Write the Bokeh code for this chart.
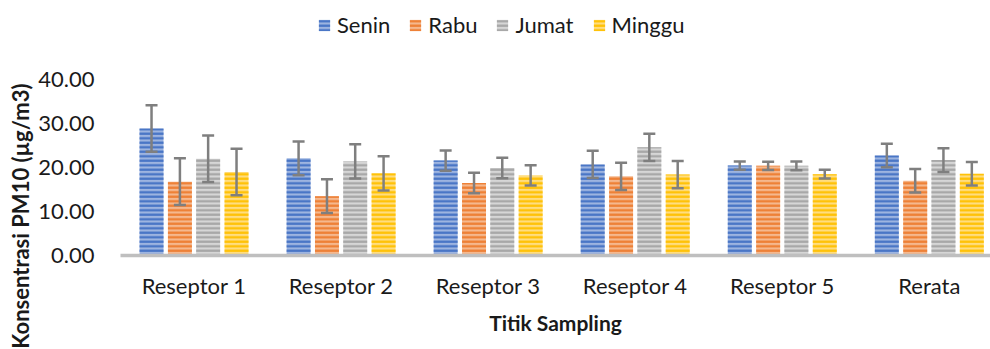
import math
from bokeh.plotting import figure
from bokeh.models import (Range1d, FixedTicker, NumeralTickFormatter, Whisker, TeeHead,
                          ColumnDataSource, Legend, LegendItem, Title)
from bokeh.embed import file_html
from bokeh.resources import INLINE

categories = ["Reseptor 1", "Reseptor 2", "Reseptor 3", "Reseptor 4", "Reseptor 5", "Rerata"]
series_names = ["Senin", "Rabu", "Jumat", "Minggu"]
senin = [28.9, 22.1, 21.6, 20.7, 20.45, 22.75]
rabu = [16.8, 13.5, 16.5, 18.0, 20.4, 17.0]
jumat = [22.0, 21.4, 19.9, 24.6, 20.4, 21.7]
minggu = [19.0, 18.7, 18.2, 18.4, 18.5, 18.6]
senin_err = [5.3, 3.85, 2.3, 3.1, 0.95, 2.65]
rabu_err = [5.3, 3.85, 2.35, 3.1, 0.95, 2.65]
jumat_err = [5.3, 3.9, 2.35, 3.1, 1.0, 2.7]
minggu_err = [5.3, 3.9, 2.3, 3.1, 1.0, 2.65]
y_ticks = [0, 10, 20, 30, 40]

base_colors = ["#4472C4", "#ED7D31", "#A5A5A5", "#FFC000"]
light_colors = ["#9DB4E0", "#F5B88E", "#D6D6D6", "#FFDD80"]

FONT = "Lato"
TXT = "#1a1a1a"

# frame spans the full height above the axis; the legend lives in its top part
p = figure(width=990, height=349, output_backend="svg", toolbar_location=None,
           x_range=Range1d(0, 5.916), y_range=Range1d(0, 58.0),
           min_border_left=120, min_border_right=0, min_border_top=0, min_border_bottom=94)
p.outline_line_color = None
p.xgrid.visible = False
p.ygrid.visible = False
p.background_fill_color = "white"
p.border_fill_color = "white"

values = [senin, rabu, jumat, minggu]
errors = [senin_err, rabu_err, jumat_err, minggu_err]
offsets = [-0.289, -0.096, 0.096, 0.289]
bar_w = 0.163

renderers = []
for k in range(4):
    xs = [i + 0.5 + offsets[k] for i in range(len(categories))]
    src = ColumnDataSource(dict(
        x=xs, top=values[k],
        upper=[v + e for v, e in zip(values[k], errors[k])],
        lower=[v - e for v, e in zip(values[k], errors[k])],
    ))
    r = p.vbar(x="x", top="top", width=bar_w, source=src,
               fill_color=light_colors[k], line_color=None,
               hatch_pattern="horizontal_line", hatch_color=base_colors[k],
               hatch_scale=4.5, hatch_weight=2.2)
    renderers.append(r)
    w = Whisker(base="x", upper="upper", lower="lower", source=src, level="annotation",
                line_color="#7F7F7F", line_width=2.5,
                upper_head=TeeHead(size=12, line_color="#7F7F7F", line_width=2.5),
                lower_head=TeeHead(size=12, line_color="#7F7F7F", line_width=2.5))
    p.add_layout(w)

# x axis
p.xaxis.ticker = FixedTicker(ticks=[i + 0.5 for i in range(len(categories))])
p.xaxis.major_label_overrides = {i + 0.5: c for i, c in enumerate(categories)}
p.xaxis.axis_line_color = "#BFBFBF"
p.xaxis.axis_line_width = 3.5
p.xaxis.major_tick_line_color = None
p.xaxis.minor_tick_line_color = None
p.xaxis.major_label_text_font = FONT
p.xaxis.major_label_text_font_size = "22px"
p.xaxis.major_label_text_color = TXT
p.xaxis.major_label_standoff = 10
p.xaxis.axis_label = "Titik Sampling"
p.xaxis.axis_label_text_font = FONT
p.xaxis.axis_label_text_font_style = "bold"
p.xaxis.axis_label_text_font_size = "21px"
p.xaxis.axis_label_text_color = TXT
p.xaxis.axis_label_standoff = 8

# y axis
p.yaxis.ticker = FixedTicker(ticks=y_ticks)
p.yaxis.formatter = NumeralTickFormatter(format="0.00")
p.yaxis.axis_line_color = None
p.yaxis.major_tick_line_color = None
p.yaxis.minor_tick_line_color = None
p.yaxis.major_label_text_font = FONT
p.yaxis.major_label_text_font_size = "22px"
p.yaxis.major_label_text_color = TXT
p.yaxis.major_label_standoff = 20

ytitle = Title(text="Konsentrasi PM10 (µg/m3)", align="right", offset=83,
               text_font=FONT, text_font_style="bold", text_font_size="22px",
               text_color=TXT, standoff=4)
p.add_layout(ytitle, "left")

legend = Legend(items=[LegendItem(label=n, renderers=[r]) for n, r in zip(series_names, renderers)],
                orientation="horizontal", location=(197, 217),
                background_fill_alpha=0, border_line_color=None,
                glyph_width=14, glyph_height=14, label_standoff=6, spacing=18,
                padding=0, margin=0,
                label_text_font=FONT, label_text_font_size="22px", label_text_color=TXT)
p.add_layout(legend)

open("out.html", "w").write(file_html(p, INLINE))
